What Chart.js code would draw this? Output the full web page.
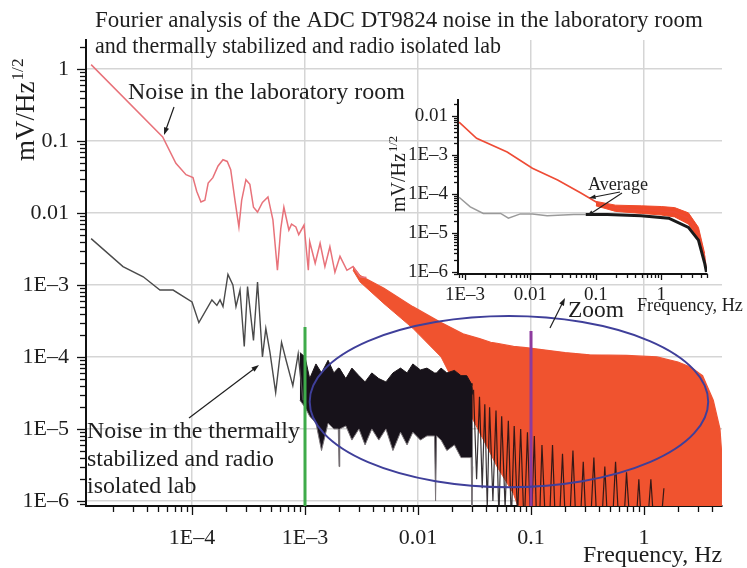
<!DOCTYPE html>
<html>
<head>
<meta charset="utf-8">
<script src="https://cdn.jsdelivr.net/npm/chart.js@4.4.1/dist/chart.umd.min.js"></script>
<style>
  html, body { margin: 0; padding: 0; background: #fff; }
  #wrap { position: relative; width: 747px; height: 568px; }
  #wrap canvas { position: absolute; left: 0; top: 0; }
</style>
</head>
<body>
<div id="wrap">
  <canvas id="main" width="747" height="568"></canvas>
  <canvas id="inset" width="747" height="568"></canvas>
</div>
<script>
// ---- main plot: laboratory room, smooth low-frequency part ----
const labFreq = [1.28e-5, 5.5e-5, 7.2e-5, 8.85e-5, 1.02e-4, 1.1e-4, 1.2e-4, 1.3e-4, 1.39e-4, 1.53e-4, 1.7e-4, 1.88e-4, 2.05e-4, 2.2e-4, 2.4e-4, 2.6e-4, 2.75e-4, 3.0e-4, 3.25e-4, 3.5e-4, 3.8e-4, 4.2e-4, 4.7e-4, 5.2e-4, 5.7e-4, 6.1e-4, 6.5e-4, 7.2e-4, 7.6e-4, 8.3e-4, 8.8e-4, 9.8e-4, 1.07e-3, 1.1e-3, 1.23e-3, 1.36e-3, 1.5e-3, 1.66e-3, 1.84e-3, 2.04e-3, 2.35e-3, 2.66e-3, 3.07e-3, 3.5e-3];
const labVal = [1.15, 0.114, 0.049, 0.034, 0.031, 0.02, 0.0142, 0.015, 0.026, 0.031, 0.045, 0.055, 0.052, 0.04, 0.015, 0.0064, 0.015, 0.029, 0.025, 0.012, 0.0103, 0.014, 0.0167, 0.008, 0.0016, 0.006, 0.012, 0.0058, 0.007, 0.0064, 0.005, 0.0068, 0.0016, 0.004, 0.002, 0.0038, 0.0018, 0.0034, 0.0015, 0.0025, 0.0016, 0.0018, 0.0013, 0.00127];

// laboratory room, dense noise band (upper / lower envelope)
const labBandFreq = [2.66e-3, 3.07e-3, 5e-3, 9e-3, 0.016, 0.025, 0.035, 0.044, 0.05, 0.07, 0.09, 0.2, 0.33, 0.7, 1.3, 2.0, 2.6, 3.3, 4.1, 4.7, 4.85, 4.9];
const labBandHigh = [1.8e-3, 1.35e-3, 9e-4, 5e-4, 3e-4, 2.1e-4, 1.8e-4, 1.6e-4, 1.55e-4, 1.4e-4, 1.35e-4, 1.15e-4, 1.07e-4, 1.05e-4, 1e-4, 8.5e-5, 7.2e-5, 5.5e-5, 2.5e-5, 1e-5, 5e-6, 1e-7];
const labBandLow = [1.6e-3, 1.1e-3, 5.5e-4, 2.5e-4, 1e-4, 2.5e-5, 9e-6, 4.5e-6, 3e-6, 1.26e-6, 4e-7, 1e-7, 1e-7, 1e-7, 1e-7, 1e-7, 1e-7, 1e-7, 1e-7, 1e-7, 1e-7, 1e-7];

// thermally stabilized lab, smooth low-frequency part
const thermFreq = [1.28e-5, 2.45e-5, 3.7e-5, 5.2e-5, 6.8e-5, 1e-4, 1.15e-4, 1.5e-4, 1.66e-4, 1.77e-4, 1.88e-4, 2.08e-4, 2.3e-4, 2.45e-4, 2.66e-4, 2.9e-4, 3.1e-4, 3.5e-4, 3.8e-4, 4.2e-4, 4.5e-4, 4.9e-4, 5.5e-4, 6.2e-4, 6.8e-4, 7.8e-4, 8.7e-4, 9.6e-4];
const thermVal = [4.4e-3, 1.8e-3, 1.3e-3, 8.5e-4, 8.5e-4, 5.8e-4, 3e-4, 6.2e-4, 5.2e-4, 6.2e-4, 5e-4, 1.4e-3, 1e-3, 5e-4, 8.5e-4, 1.4e-4, 9.5e-4, 1.7e-4, 1.1e-3, 1e-4, 2.5e-4, 1.15e-4, 3.2e-5, 1.6e-4, 9e-5, 4e-5, 1.1e-4, 2.5e-5];

// thermally stabilized lab, dense band 1 mHz .. 30 mHz (upper / lower envelope)
const thermDenseFreq = [9e-4, 1.0e-3, 1.1e-3, 1.25e-3, 1.4e-3, 1.6e-3, 1.8e-3, 1.97e-3, 2.0e-3, 2.03e-3, 2.3e-3, 2.6e-3, 3.0e-3, 3.4e-3, 3.9e-3, 4.5e-3, 5.2e-3, 6.0e-3, 7.0e-3, 8.0e-3, 9.0e-3, 0.0105, 0.012, 0.014, 0.0143, 0.0146, 0.016, 0.018, 0.021, 0.024, 0.027, 0.0295, 0.030, 0.0305];
const thermDenseHigh = [1.15e-4, 1e-4, 5e-5, 8e-5, 6e-5, 9e-5, 6e-5, 7e-5, 7e-5, 7e-5, 5e-5, 7e-5, 5.5e-5, 4.5e-5, 6e-5, 5e-5, 4.5e-5, 6e-5, 7e-5, 6e-5, 8e-5, 6.6e-5, 7e-5, 6e-5, 6e-5, 6e-5, 7e-5, 6e-5, 6.5e-5, 5.5e-5, 5.5e-5, 4.3e-5, 4e-5, 3e-5];
const thermDenseLow = [2.5e-5, 2e-5, 1.5e-5, 1.2e-5, 5e-6, 1.2e-5, 1e-5, 1e-5, 3e-6, 1e-5, 1.1e-5, 7e-6, 1e-5, 6e-6, 1e-5, 7e-6, 1e-5, 5e-6, 9e-6, 6e-6, 9e-6, 7e-6, 8e-6, 8e-6, 1e-6, 8e-6, 7e-6, 5e-6, 6e-6, 4e-6, 4e-6, 4e-6, 8e-7, 3e-6];

// thermally stabilized lab, spikes above 30 mHz (alternating peak / trough)
const thermTailFreq = [0.031, 0.033, 0.035, 0.037, 0.039, 0.041, 0.043, 0.046, 0.049, 0.052, 0.055, 0.059, 0.063, 0.067, 0.071, 0.076, 0.081, 0.087, 0.093, 0.1, 0.107, 0.115, 0.125, 0.14, 0.155, 0.17, 0.19, 0.21, 0.235, 0.26, 0.29, 0.32, 0.36, 0.4, 0.45, 0.5, 0.56, 0.63, 0.7, 0.8, 0.9, 1.0, 1.15, 1.3, 1.5];
const thermTailVal = [3.5e-5, 2e-6, 2.8e-5, 1.5e-6, 2.2e-5, 8e-7, 2e-5, 1e-6, 1.8e-5, 6e-7, 1.5e-5, 8e-7, 1.3e-5, 5e-7, 1.1e-5, 6e-7, 1e-5, 4e-7, 9e-6, 3e-7, 8e-6, 1e-7, 6e-6, 1e-7, 6e-6, 1e-7, 4.5e-6, 1e-7, 5e-6, 1e-7, 3.5e-6, 1e-7, 4e-6, 1e-7, 3e-6, 1e-7, 3.5e-6, 1e-7, 2.5e-6, 1e-7, 2e-6, 1e-7, 2e-6, 1e-7, 1.5e-6];

// marker lines (frequency, top value)
const greenMarker = [1e-3, 2.6e-4];
const purpleMarker = [0.1, 2.3e-4];

// zoom ellipse bounds (frequency left/right, value top/bottom)
const ellipseFreq = [1.1e-3, 3.7];
const ellipseVal = [3.7e-4, 1.55e-6];

// ---- inset: averaged spectra ----
const insetLabFreq = [8.1e-4, 1.5e-3, 4.4e-3, 0.0107, 0.026, 0.059, 0.107, 0.19, 0.49, 1.6, 2.6, 3.7, 4.6, 4.9];
const insetLabVal = [7e-3, 2.7e-3, 1.2e-3, 4.6e-4, 2.3e-4, 1.07e-4, 5.9e-5, 4.4e-5, 3.9e-5, 3.5e-5, 2.4e-5, 1e-5, 2.5e-6, 1e-6];
const insetLabBandFreq = [0.1, 0.2, 0.5, 1.0, 1.6, 2.6, 3.7, 4.6];
const insetLabBandHigh = [6.5e-5, 5.2e-5, 5e-5, 4.8e-5, 4.5e-5, 3.3e-5, 1.4e-5, 3e-6];
const insetLabBandLow = [5e-5, 3.6e-5, 3.2e-5, 2.9e-5, 2.6e-5, 1.7e-5, 7e-6, 2e-6];
const insetGreyFreq = [8.1e-4, 1.2e-3, 1.9e-3, 3.5e-3, 4.6e-3, 7e-3, 0.0107, 0.018, 0.046, 0.07];
const insetGreyVal = [8.3e-5, 4.7e-5, 3.2e-5, 3.2e-5, 2.4e-5, 3.1e-5, 3.1e-5, 2.8e-5, 3e-5, 3e-5];
const insetThermFreq = [0.07, 0.15, 0.49, 1.3, 2.6, 3.7, 4.6, 4.9];
const insetThermVal = [3e-5, 3e-5, 2.8e-5, 2.4e-5, 1.4e-5, 6.6e-6, 1.7e-6, 1e-6];

const serif = '"Liberation Serif", "Times New Roman", serif';
const ink = '#1e1e1e';
const gridGrey = '#d5d5d5';

const pts = (xs, ys) => xs.map((x, i) => ({ x: x, y: ys[i] }));
const isDecade = v => { const l = Math.log10(v); return Math.abs(l - Math.round(l)) < 1e-6; };
function fmt(v) {
  const e = Math.round(Math.log10(v));
  if (e >= 0) return String(Math.pow(10, e));
  if (e >= -2) return Math.pow(10, e).toFixed(-e);
  return '1E\u2013' + (-e);
}
function logTicks(scale) {
  const t = [];
  const lo = Math.floor(Math.log10(scale.min)), hi = Math.ceil(Math.log10(scale.max));
  for (let e = lo; e <= hi; e++) {
    for (let m = 1; m < 10; m++) {
      const v = m * Math.pow(10, e);
      if (v >= scale.min * 0.9999 && v <= scale.max * 1.0001) t.push({ value: v });
    }
  }
  scale.ticks = t;
}
function logAxis(o) {
  return {
    type: 'logarithmic', position: o.pos, min: o.min, max: o.max, bounds: 'data',
    afterBuildTicks: logTicks,
    afterFit: s => { if (o.pos === 'left') s.width = o.fit; else s.height = o.fit; },
    border: { display: true, color: '#111', width: 2 },
    grid: {
      color: c => (o.grid && c.tick && isDecade(c.tick.value)) ? gridGrey : 'rgba(0,0,0,0)',
      lineWidth: 1.5, drawTicks: true, tickLength: o.tickLen, tickColor: 'rgba(0,0,0,0)'
    },
    ticks: {
      autoSkip: false, maxRotation: 0, minRotation: 0, padding: o.pad, color: ink,
      font: { family: serif, size: o.font },
      callback: v => isDecade(v) ? fmt(v) : ''
    }
  };
}
function drawTickMarks(chart, major, minor) {
  const ctx = chart.ctx, xs = chart.scales.x, ys = chart.scales.y;
  ctx.save();
  ctx.strokeStyle = '#111';
  ctx.lineWidth = 1.3;
  xs.ticks.forEach(t => {
    const p = Math.round(xs.getPixelForValue(t.value)) + 0.5;
    const len = isDecade(t.value) ? major : minor;
    ctx.beginPath(); ctx.moveTo(p, xs.top); ctx.lineTo(p, xs.top + len); ctx.stroke();
  });
  ys.ticks.forEach(t => {
    const p = Math.round(ys.getPixelForValue(t.value)) + 0.5;
    const len = isDecade(t.value) ? major : minor;
    ctx.beginPath(); ctx.moveTo(ys.right, p); ctx.lineTo(ys.right - len, p); ctx.stroke();
  });
  ctx.restore();
}
function fitSize(ctx, str, width) {
  ctx.font = '20px ' + serif;
  return 20 * width / ctx.measureText(str).width;
}
function sizedText(ctx, str, x, y, size, align) {
  ctx.font = size.toFixed(2) + 'px ' + serif;
  ctx.textAlign = align || 'left';
  ctx.textBaseline = 'alphabetic';
  ctx.fillText(str, x, y);
}
function fitText(ctx, str, x, y, width, align) {
  const s = fitSize(ctx, str, width);
  sizedText(ctx, str, x, y, s, align);
  return s;
}
function unitLabel(ctx, baseX, bottomY, size) {
  ctx.save();
  ctx.translate(baseX, bottomY);
  ctx.rotate(-Math.PI / 2);
  ctx.font = size + 'px ' + serif;
  ctx.textAlign = 'left';
  ctx.textBaseline = 'alphabetic';
  ctx.fillText('mV/Hz', 0, 0);
  const w = ctx.measureText('mV/Hz').width;
  ctx.font = (size * 0.64).toFixed(1) + 'px ' + serif;
  ctx.fillText('1/2', w + 1, -size * 0.42);
  ctx.restore();
}
function arrow(ctx, x1, y1, x2, y2, head) {
  const a = Math.atan2(y2 - y1, x2 - x1);
  ctx.beginPath();
  ctx.moveTo(x1, y1);
  ctx.lineTo(x2 - Math.cos(a) * head * 0.6, y2 - Math.sin(a) * head * 0.6);
  ctx.stroke();
  ctx.beginPath();
  ctx.moveTo(x2, y2);
  ctx.lineTo(x2 - head * Math.cos(a - 0.33), y2 - head * Math.sin(a - 0.33));
  ctx.lineTo(x2 - head * Math.cos(a + 0.33), y2 - head * Math.sin(a + 0.33));
  ctx.closePath();
  ctx.fill();
}

const mainDecor = {
  id: 'mainDecor',
  afterDatasetsDraw(chart) {
    const ctx = chart.ctx, xs = chart.scales.x, ys = chart.scales.y;
    // zoom ellipse
    const xl = xs.getPixelForValue(ellipseFreq[0]), xr = xs.getPixelForValue(ellipseFreq[1]);
    const yt = ys.getPixelForValue(ellipseVal[0]), yb = ys.getPixelForValue(ellipseVal[1]);
    ctx.save();
    ctx.strokeStyle = '#3f3f9a';
    ctx.lineWidth = 2;
    ctx.beginPath();
    ctx.ellipse((xl + xr) / 2, (yt + yb) / 2, (xr - xl) / 2, (yb - yt) / 2, 0, 0, Math.PI * 2);
    ctx.stroke();
    ctx.restore();
  },
  afterDraw(chart) {
    const ctx = chart.ctx;
    drawTickMarks(chart, 9, 6);
    ctx.save();
    ctx.fillStyle = ink;
    ctx.strokeStyle = ink;
    fitText(ctx, 'Fourier analysis of the ADC DT9824 noise in the laboratory room', 95, 27, 608);
    fitText(ctx, 'and thermally stabilized and radio isolated lab', 95, 53, 406);
    fitText(ctx, 'Noise in the laboratory room', 128, 99, 277);
    const s = fitText(ctx, 'Noise in the thermally', 87, 438, 213);
    sizedText(ctx, 'stabilized and radio', 87, 466, s);
    sizedText(ctx, 'isolated lab', 87, 493, s);
    fitText(ctx, 'Frequency, Hz', 722, 562, 139, 'right');
    fitText(ctx, 'Zoom', 568, 317, 56);
    unitLabel(ctx, 34, 161, 27);
    ctx.lineWidth = 1.2;
    arrow(ctx, 174, 107, 164, 135, 8);
    arrow(ctx, 189, 418, 259, 365, 8);
    arrow(ctx, 550, 328, 565, 298, 8);
    ctx.restore();
  }
};

const insetDecor = {
  id: 'insetDecor',
  afterDraw(chart) {
    const ctx = chart.ctx;
    drawTickMarks(chart, 6, 4);
    ctx.save();
    ctx.fillStyle = ink;
    ctx.strokeStyle = ink;
    fitText(ctx, 'Frequency, Hz', 637, 311, 106);
    fitText(ctx, 'Average', 588, 190, 60);
    unitLabel(ctx, 405, 212, 20);
    ctx.lineWidth = 1.1;
    arrow(ctx, 620, 192, 589, 198, 7);
    arrow(ctx, 622, 193, 587, 216, 7);
    ctx.restore();
  }
};

const lineDefaults = { pointRadius: 0, pointHoverRadius: 0, tension: 0, fill: false };

new Chart(document.getElementById('main'), {
  type: 'line',
  data: {
    datasets: [
      Object.assign({}, lineDefaults, { data: pts(labBandFreq, labBandHigh), borderColor: '#ef5535', borderWidth: 1.2, order: 6 }),
      Object.assign({}, lineDefaults, { data: pts(labBandFreq, labBandLow), borderColor: '#ef5535', borderWidth: 1, backgroundColor: '#f0532f', fill: '-1', order: 6 }),
      Object.assign({}, lineDefaults, { data: pts(labFreq, labVal), borderColor: '#e8727a', borderWidth: 1.5, order: 5 }),
      Object.assign({}, lineDefaults, { data: pts(thermTailFreq, thermTailVal), borderColor: 'rgba(20,14,18,0.85)', borderWidth: 1.2, order: 4 }),
      Object.assign({}, lineDefaults, { data: pts(thermDenseFreq, thermDenseHigh), borderColor: '#1c161a', borderWidth: 1, order: 3 }),
      Object.assign({}, lineDefaults, { data: pts(thermDenseFreq, thermDenseLow), borderColor: '#7a7478', borderWidth: 1, backgroundColor: '#17121a', fill: '-1', order: 3 }),
      Object.assign({}, lineDefaults, { data: pts(thermFreq, thermVal), borderColor: '#4a4a4a', borderWidth: 1.4, order: 2 }),
      Object.assign({}, lineDefaults, { data: [{ x: greenMarker[0], y: greenMarker[1] }, { x: greenMarker[0], y: 1e-7 }], borderColor: '#3eab4a', borderWidth: 3, order: 1 }),
      Object.assign({}, lineDefaults, { data: [{ x: purpleMarker[0], y: purpleMarker[1] }, { x: purpleMarker[0], y: 1e-7 }], borderColor: '#8d3b9e', borderWidth: 3, order: 1 })
    ]
  },
  options: {
    responsive: false, animation: false, devicePixelRatio: 1,
    layout: { padding: { left: 0, top: 40, right: 25, bottom: 0 } },
    plugins: { legend: { display: false }, tooltip: { enabled: false } },
    scales: {
      x: logAxis({ pos: 'bottom', min: 1.153e-5, max: 4.9, fit: 62, tickLen: 10, pad: 9, font: 22, grid: true }),
      y: logAxis({ pos: 'left', min: 8.5e-7, max: 2.53, fit: 86, tickLen: 9, pad: 8, font: 22, grid: true })
    }
  },
  plugins: [mainDecor]
});

new Chart(document.getElementById('inset'), {
  type: 'line',
  data: {
    datasets: [
      Object.assign({}, lineDefaults, { data: pts(insetLabBandFreq, insetLabBandHigh), borderColor: '#ef4a2a', borderWidth: 1, order: 4 }),
      Object.assign({}, lineDefaults, { data: pts(insetLabBandFreq, insetLabBandLow), borderColor: '#ef4a2a', borderWidth: 1, backgroundColor: '#f04a2a', fill: '-1', order: 4 }),
      Object.assign({}, lineDefaults, { data: pts(insetLabFreq, insetLabVal), borderColor: '#ee4b35', borderWidth: 1.6, order: 3 }),
      Object.assign({}, lineDefaults, { data: pts(insetGreyFreq, insetGreyVal), borderColor: '#9a9a9a', borderWidth: 1.5, order: 2 }),
      Object.assign({}, lineDefaults, { data: pts(insetThermFreq, insetThermVal), borderColor: '#1a1a1a', borderWidth: 3, order: 1 })
    ]
  },
  options: {
    responsive: false, animation: false, devicePixelRatio: 1,
    layout: { padding: { left: 400, top: 100, right: 40, bottom: 250 } },
    plugins: { legend: { display: false }, tooltip: { enabled: false } },
    scales: {
      x: logAxis({ pos: 'bottom', min: 7.8e-4, max: 5.0, fit: 44, tickLen: 6, pad: 4, font: 19, grid: false }),
      y: logAxis({ pos: 'left', min: 8.9e-7, max: 0.026, fit: 58, tickLen: 6, pad: 4, font: 19, grid: false })
    }
  },
  plugins: [insetDecor]
});
</script>
</body>
</html>
